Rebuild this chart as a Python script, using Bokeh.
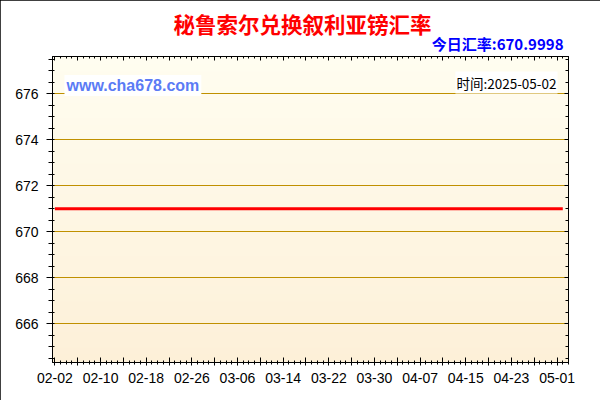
import pandas as pd
import numpy as np
from bokeh.plotting import figure
from bokeh.models import (Range1d, FixedTicker, DatetimeAxis, LinearAxis, Label,
                          BoxAnnotation, ColumnDataSource, Title)
from bokeh.embed import file_html
from bokeh.resources import INLINE

# ---------------- data ----------------
title_text = "秘鲁索尔兑换叙利亚镑汇率"
today_text = "今日汇率:670.9998"
time_text = "时间:2025-05-02"
site_text = "www.cha678.com"

start_date = "2025-02-02"
end_date = "2025-05-02"
rates = [
    670.9998, 670.9998, 670.9998, 670.9998, 670.9998, 670.9998, 670.9998, 670.9998, 670.9998, 670.9998,
    670.9998, 670.9998, 670.9998, 670.9998, 670.9998, 670.9998, 670.9998, 670.9998, 670.9998, 670.9998,
    670.9998, 670.9998, 670.9998, 670.9998, 670.9998, 670.9998, 670.9998, 670.9998, 670.9998, 670.9998,
    670.9998, 670.9998, 670.9998, 670.9998, 670.9998, 670.9998, 670.9998, 670.9998, 670.9998, 670.9998,
    670.9998, 670.9998, 670.9998, 670.9998, 670.9998, 670.9998, 670.9998, 670.9998, 670.9998, 670.9998,
    670.9998, 670.9998, 670.9998, 670.9998, 670.9998, 670.9998, 670.9998, 670.9998, 670.9998, 670.9998,
    670.9998, 670.9998, 670.9998, 670.9998, 670.9998, 670.9998, 670.9998, 670.9998, 670.9998, 670.9998,
    670.9998, 670.9998, 670.9998, 670.9998, 670.9998, 670.9998, 670.9998, 670.9998, 670.9998, 670.9998,
    670.9998, 670.9998, 670.9998, 670.9998, 670.9998, 670.9998, 670.9998, 670.9998, 670.9998, 670.9998,
]
x_tick_labels = ["02-02", "02-10", "02-18", "02-26", "03-06", "03-14",
                 "03-22", "03-30", "04-07", "04-15", "04-23", "05-01"]
y_ticks = [666, 668, 670, 672, 674, 676]
y_min, y_max = 664.31, 677.63
tick_year = "2025"

# ---------------- helpers ----------------
dates = pd.date_range(start_date, end_date, freq="D")
source = ColumnDataSource(dict(date=dates, rate=rates))

def to_ms(ts):
    return float((pd.Timestamp(ts) - pd.Timestamp("1970-01-01")) // pd.Timedelta("1ms"))

labeled = [to_ms(f"{tick_year}-{lab}") for lab in x_tick_labels]
day_ms = 86400000.0
mids = [t + 4 * day_ms for t in labeled[:-1]]
major_x = sorted(labeled + mids)
overrides = {t: lab for t, lab in zip(labeled, x_tick_labels)}
overrides.update({t: "" for t in mids})
minor_x = [to_ms(d) for d in pd.date_range("2025-02-01", "2025-05-03", freq="D")]

y_minor = list(np.arange(664.5, 678.0, 0.5))

x_start = pd.Timestamp("2025-02-01 14:00")
x_end = pd.Timestamp("2025-05-03 00:00")

# ---------------- figure ----------------
p = figure(width=600, height=400, x_axis_type="datetime",
           x_range=Range1d(x_start, x_end), y_range=Range1d(y_min, y_max),
           output_backend="svg", toolbar_location=None,
           min_border_left=52, min_border_right=32, min_border_top=56, min_border_bottom=38)
p.border_fill_color = "white"
p.outline_line_color = "black"
p.outline_line_width = 1
p.styles = {"outline": "2px solid black", "outline-offset": "-2px"}

# background gradient
n_bands = 40
top_c = np.array([255, 253, 240])
bot_c = np.array([253, 240, 216])
edges = np.linspace(y_min, y_max, n_bands + 1)
band_h = edges[1] - edges[0]
for i in range(n_bands):
    f = (i + 0.5) / n_bands
    c = bot_c + (top_c - bot_c) * f
    col = "#%02x%02x%02x" % tuple(int(round(v)) for v in c)
    p.add_layout(BoxAnnotation(bottom=edges[i], top=edges[i] + band_h * 1.15,
                               fill_color=col, fill_alpha=1.0, line_color=None,
                               level="image"))

# grid
p.xgrid.grid_line_color = None
p.ygrid.grid_line_color = "#C09000"
p.ygrid.grid_line_width = 1

# axes
xt = FixedTicker(ticks=major_x, minor_ticks=minor_x)
yt = FixedTicker(ticks=y_ticks, minor_ticks=y_minor)

xa = p.xaxis[0]
xa.ticker = xt
xa.major_label_overrides = overrides
xa.axis_line_color = "black"
xa.major_tick_line_color = "black"
xa.minor_tick_line_color = "black"
xa.major_tick_in = 5
xa.major_tick_out = 3
xa.minor_tick_in = 2
xa.minor_tick_out = 2
xa.major_label_standoff = 7
xa.major_label_text_font = "Liberation Sans"
xa.major_label_text_font_size = "14px"
xa.major_label_text_color = "black"

ya = p.yaxis[0]
ya.ticker = yt
ya.axis_line_color = "black"
ya.major_tick_line_color = "black"
ya.minor_tick_line_color = "black"
ya.major_tick_in = 0
ya.major_tick_out = 6
ya.minor_tick_in = 2
ya.minor_tick_out = 4
ya.major_label_standoff = 8
ya.major_label_text_font = "Liberation Sans"
ya.major_label_text_font_size = "14px"
ya.major_label_text_color = "black"

top_axis = DatetimeAxis(ticker=xt, major_tick_in=4, major_tick_out=0,
                        minor_tick_in=2, minor_tick_out=0,
                        axis_line_color="black", major_label_standoff=0)
top_axis.major_label_overrides = {t: "" for t in major_x}
p.add_layout(top_axis, "above")

right_axis = LinearAxis(ticker=yt, major_tick_in=4, major_tick_out=0,
                        minor_tick_in=3, minor_tick_out=0,
                        axis_line_color="black", major_label_standoff=0)
right_axis.major_label_overrides = {t: "" for t in y_ticks}
p.add_layout(right_axis, "right")

# titles (first added sits closest to the frame)
p.add_layout(Title(text=today_text, align="right", offset=5, standoff=6,
                   text_font="Noto Sans CJK SC", text_font_style="bold",
                   text_font_size="15px", text_color="#0000FF"), "above")
p.add_layout(Title(text=title_text, align="left", offset=121, standoff=-22,
                   text_font="Noto Sans CJK SC", text_font_style="bold",
                   text_font_size="21.5px", text_color="#FF0000"), "above")

# data line
p.line("date", "rate", source=source, line_color="#FF0000", line_width=3)

# in-frame texts (screen units, relative to frame bottom-left)
p.add_layout(Label(x=12, y=277, x_units="screen", y_units="screen", text=site_text,
                   text_align="left", text_baseline="middle",
                   text_font="Liberation Sans", text_font_style="bold",
                   text_font_size="16px", text_color="#5B7BF5",
                   background_fill_color="white", padding=2))
p.add_layout(Label(x=505, y=280, x_units="screen", y_units="screen", text=time_text,
                   text_align="right", text_baseline="middle",
                   text_font="Noto Sans CJK SC",
                   text_font_size="13.5px", text_color="black",
                   background_fill_color="white", padding=1))

open("out.html", "w").write(file_html(p, INLINE))
